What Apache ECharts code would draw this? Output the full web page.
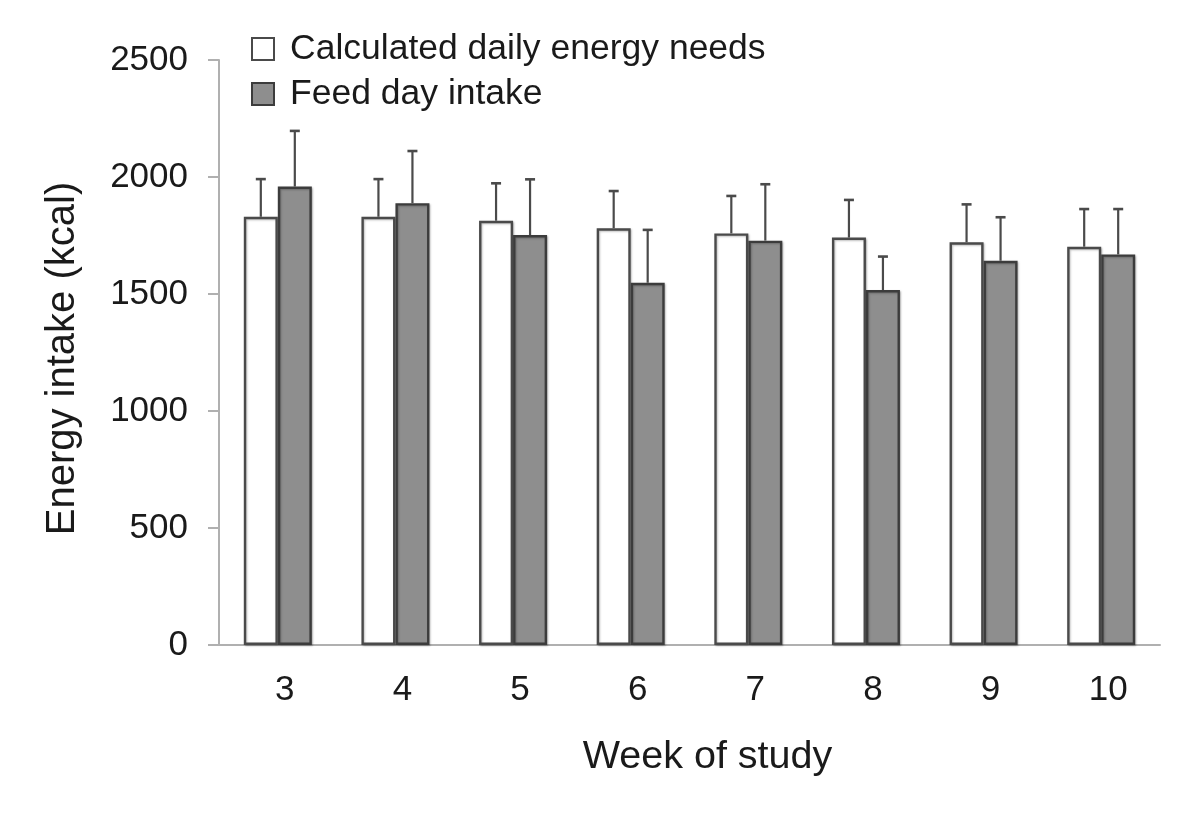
<!DOCTYPE html>
<html>
<head>
<meta charset="utf-8">
<script src="https://cdn.jsdelivr.net/npm/echarts@6/dist/echarts.min.js"></script>
<style>
html,body{margin:0;padding:0;background:#fff;}
#chart{width:1200px;height:824px;}
</style>
</head>
<body>
<div id="chart"></div>
<script>
const weeks = ['3','4','5','6','7','8','9','10'];
const needsMean = [1830,1830,1813,1781,1759,1741,1721,1702];
const needsSD   = [161,161,160,159,160,161,162,161];
const intakeMean = [1959,1888,1752,1548,1728,1517,1642,1669];
const intakeSD   = [238,223,238,226,241,143,186,194];
const yTicks = {min:0, max:2500, interval:500};

const FONT = '"Liberation Sans", Arial, Helvetica, sans-serif';
const BAR_W = 34;

function errData(means, sds){
  return means.map((m,i)=>[i, m, sds[i]]);
}
function errRender(side){
  return function(params, api){
    const x = api.value(0), m = api.value(1), s = api.value(2);
    const p0 = api.coord([x, m]);
    const p1 = api.coord([x, m + s]);
    const cx = p0[0] + side * BAR_W / 2;
    const st = {stroke:'#4a4a4a', lineWidth:2.2};
    return {
      type:'group',
      children:[
        {type:'line', shape:{x1:cx, y1:p0[1], x2:cx, y2:p1[1]}, style:st},
        {type:'line', shape:{x1:cx-5, y1:p1[1], x2:cx+5, y2:p1[1]}, style:{stroke:'#4a4a4a', lineWidth:2.6}}
      ]
    };
  };
}

const chart = echarts.init(document.getElementById('chart'));
chart.setOption({
  backgroundColor:'#fff',
  animation:false,
  textStyle:{fontFamily:FONT},
  legend:{
    data:['Calculated daily energy needs','Feed day intake'],
    orient:'vertical',
    left:246, top:26,
    itemWidth:22, itemHeight:22,
    itemGap:9,
    icon:'rect',
    textStyle:{fontFamily:FONT, fontSize:35.5, color:'#1a1a1a', lineHeight:35, padding:[0,0,0,11]}
  },
  grid:{left:219, right:40, top:60, bottom:179, containLabel:false},
  xAxis:{
    type:'category',
    data:weeks,
    name:'Week of study',
    nameLocation:'middle',
    nameGap:92,
    nameTextStyle:{fontFamily:FONT, fontSize:39.5, color:'#1a1a1a', padding:[0,0,0,36]},
    axisLine:{lineStyle:{color:'#b0b0b0', width:2}},
    axisTick:{show:false},
    axisLabel:{fontFamily:FONT, fontSize:35, color:'#1a1a1a', margin:28, padding:[0,0,0,14]}
  },
  yAxis:{
    type:'value',
    min:yTicks.min, max:yTicks.max, interval:yTicks.interval,
    name:'Energy intake (kcal)',
    nameLocation:'middle',
    nameGap:136,
    nameRotate:90,
    nameTextStyle:{fontFamily:FONT, fontSize:40, color:'#1a1a1a', padding:[0,12,0,0]},
    axisLine:{show:true, lineStyle:{color:'#b0b0b0', width:2}},
    axisTick:{show:true, length:11, lineStyle:{color:'#b0b0b0', width:2}},
    splitLine:{show:false},
    axisLabel:{fontFamily:FONT, fontSize:35, color:'#1a1a1a', margin:31, formatter:(v)=>String(v)}
  },
  series:[
    {
      name:'Calculated daily energy needs',
      type:'bar',
      data:needsMean,
      barWidth:BAR_W,
      barGap:'0%',
      itemStyle:{color:'#ffffff', borderColor:'#4a4a4a', borderWidth:2.4,
        shadowBlur:2, shadowColor:'rgba(0,0,0,0.25)', shadowOffsetX:1, shadowOffsetY:1}
    },
    {
      name:'Feed day intake',
      type:'bar',
      data:intakeMean,
      barWidth:BAR_W,
      barGap:'0%',
      itemStyle:{color:'#8e8e8e', borderColor:'#3c3c3c', borderWidth:2.4,
        shadowBlur:2, shadowColor:'rgba(0,0,0,0.25)', shadowOffsetX:1, shadowOffsetY:1}
    },
    {
      type:'custom',
      name:'needsErr',
      renderItem:errRender(-1),
      data:errData(needsMean, needsSD),
      encode:{x:0, y:[1]},
      z:5
    },
    {
      type:'custom',
      name:'intakeErr',
      renderItem:errRender(1),
      data:errData(intakeMean, intakeSD),
      encode:{x:0, y:[1]},
      z:5
    }
  ]
});
</script>
</body>
</html>
